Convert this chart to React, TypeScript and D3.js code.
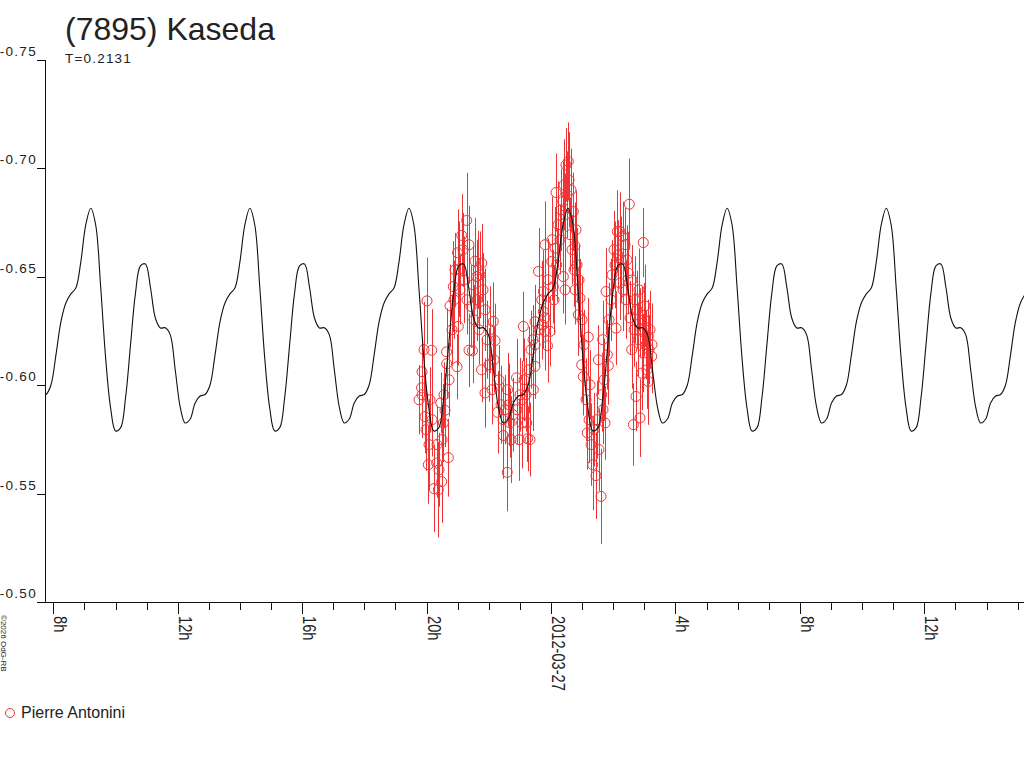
import * as d3 from "d3";
import React from "react";

const TITLE = "(7895) Kaseda";
const PERIOD_DAYS = 0.2131;
const PERIOD_LABEL = "T=0.2131";
const OBSERVER = "Pierre Antonini";
const COPYRIGHT = "©2026 OdG-RB";

// time axis in hours relative to 2012-03-27 00:00
const timeDomain: [number, number] = [-16.267, 15.205];
const magDomain: [number, number] = [-0.75, -0.5];
const magTicks = [-0.75, -0.7, -0.65, -0.6, -0.55, -0.5];
const hourTicks = d3.range(-16, 16);
const labelHours = [-16, -12, -8, -4, 0, 4, 8, 12];
const labelText = ["8h", "12h", "16h", "20h", "2012-03-27", "4h", "8h", "12h"];

// fitted lightcurve, one rotation sampled at 32 equal phase steps from the main maximum
const fitEpoch = -14.797;
const fitMag = [
  -0.6816, -0.6739, -0.6453, -0.6125, -0.5895, -0.5789, -0.5803, -0.5941,
  -0.6185, -0.6425, -0.655, -0.6559, -0.6453, -0.631, -0.6264, -0.6265,
  -0.6232, -0.607, -0.5899, -0.5826, -0.5844, -0.5918, -0.595, -0.5957,
  -0.6001, -0.6139, -0.6292, -0.6379, -0.6421, -0.6448, -0.6568, -0.6739,
];

// observations (Pierre Antonini)
const obsTime = [
  -4.243, -4.163, -4.147, -4.147, -4.083, -4.051, -4.018, -3.986, -3.944, -3.922,
  -3.89, -3.835, -3.825, -3.761, -3.674, -3.665, -3.623, -3.6, -3.546, -3.514,
  -3.504, -3.462, -3.44, -3.408, -3.359, -3.353, -3.301, -3.279, -3.247, -3.183,
  -3.141, -3.118, -3.086, -3.022, -3.006, -2.98, -2.948, -2.925, -2.871, -2.829,
  -2.797, -2.71, -2.7, -2.636, -2.636, -2.572, -2.524, -2.507, -2.475, -2.443,
  -2.389, -2.379, -2.337, -2.315, -2.282, -2.234, -2.228, -2.186, -2.122, -2.122,
  -2.057, -1.993, -1.961, -1.897, -1.855, -1.832, -1.8, -1.72, -1.672, -1.607,
  -1.543, -1.533, -1.479, -1.408, -1.398, -1.35, -1.318, -1.286, -1.222, -1.109,
  -1.093, -1.029, -0.997, -0.942, -0.932, -0.89, -0.868, -0.804, -0.781, -0.755,
  -0.707, -0.675, -0.643, -0.579, -0.569, -0.514, -0.514, -0.514, -0.402, -0.386,
  -0.299, -0.289, -0.248, -0.248, -0.193, -0.193, -0.193, -0.113, -0.096, -0.032,
  0.023, 0.032, 0.074, 0.096, 0.129, 0.161, 0.183, 0.225, 0.289, 0.321,
  0.376, 0.395, 0.418, 0.45, 0.45, 0.482, 0.514, 0.556, 0.579, 0.611,
  0.643, 0.675, 0.717, 0.739, 0.772, 0.772, 0.804, 0.836, 0.878, 0.9,
  0.932, 0.987, 0.997, 1.038, 1.061, 1.125, 1.167, 1.199, 1.222, 1.254,
  1.286, 1.341, 1.382, 1.447, 1.479, 1.521, 1.543, 1.607, 1.63, 1.662,
  1.672, 1.704, 1.736, 1.768, 1.81, 1.842, 1.865, 1.929, 1.961, 2.025,
  2.057, 2.09, 2.131, 2.154, 2.218, 2.218, 2.25, 2.305, 2.315, 2.379,
  2.411, 2.443, 2.485, 2.517, 2.54, 2.594, 2.604, 2.646, 2.668, 2.7,
  2.732, 2.765, 2.797, 2.829, 2.861, 2.861, 2.916, 2.925, 2.967, 2.967,
  2.99, 3.022, 3.054, 3.086, 3.128, 3.128, 3.15, 3.183, 3.237, 3.247,
];
const obsMag = [
  -0.5933, -0.5988, -0.6062, -0.5956, -0.6164, -0.5855, -0.5795, -0.6389, -0.5633, -0.5726,
  -0.5933, -0.6161, -0.5841, -0.5523, -0.5641, -0.5726, -0.5518, -0.561, -0.5918, -0.5555,
  -0.5749, -0.5826, -0.5956, -0.5884, -0.6154, -0.6099, -0.5666, -0.6025, -0.6366, -0.6256,
  -0.6455, -0.6394, -0.6532, -0.6085, -0.6611, -0.6271, -0.6536, -0.644, -0.6691, -0.6625,
  -0.6486, -0.676, -0.6394, -0.6648, -0.6161, -0.6363, -0.6159, -0.6463, -0.6302, -0.6572,
  -0.6501, -0.6394, -0.6532, -0.6256, -0.6509, -0.6071, -0.6563, -0.644, -0.6348, -0.5964,
  -0.621, -0.6094, -0.6256, -0.5979, -0.6294, -0.6117, -0.6206, -0.5875, -0.6025, -0.591,
  -0.5841, -0.5768, -0.5887, -0.5598, -0.5979, -0.591, -0.5826, -0.5749, -0.5864, -0.6034,
  -0.5887, -0.5749, -0.5956, -0.5826, -0.5933, -0.6271, -0.6025, -0.5956, -0.5826, -0.5753,
  -0.6071, -0.5749, -0.6164, -0.621, -0.5979, -0.6293, -0.6187, -0.6087, -0.6525, -0.6256,
  -0.6394, -0.6279, -0.6432, -0.634, -0.6648, -0.6311, -0.6248, -0.6182, -0.6486, -0.6248,
  -0.6571, -0.6671, -0.6455, -0.6394, -0.6632, -0.6889, -0.6555, -0.674, -0.6671, -0.6809,
  -0.6847, -0.6501, -0.6924, -0.6786, -0.644, -0.7016, -0.6878, -0.7032, -0.6947, -0.6694,
  -0.6901, -0.6625, -0.6801, -0.6532, -0.6643, -0.644, -0.6717, -0.6555, -0.6325, -0.6486,
  -0.6402, -0.6094, -0.6302, -0.604, -0.6187, -0.5933, -0.578, -0.6222, -0.5841, -0.6002,
  -0.5726, -0.5633, -0.5795, -0.5583, -0.5841, -0.6117, -0.5703, -0.5487, -0.5956, -0.621,
  -0.5887, -0.6025, -0.5826, -0.6432, -0.614, -0.609, -0.6302, -0.6394, -0.6509, -0.6625,
  -0.6555, -0.6263, -0.6709, -0.6601, -0.6709, -0.6471, -0.6578, -0.6686, -0.644, -0.6648,
  -0.6394, -0.6578, -0.6517, -0.6835, -0.631, -0.6164, -0.6486, -0.5818, -0.6256, -0.6394,
  -0.5948, -0.6348, -0.621, -0.644, -0.6287, -0.5849, -0.6056, -0.6256, -0.6658, -0.6148,
  -0.6302, -0.6366, -0.6187, -0.6071, -0.6225, -0.6017, -0.6164, -0.6256, -0.6133, -0.6187,
];
const obsErr = [
  0.016, 0.018, 0.014, 0.02, 0.022, 0.017, 0.019, 0.02, 0.018, 0.021,
  0.015, 0.019, 0.017, 0.02, 0.016, 0.018, 0.022, 0.017, 0.014, 0.019,
  0.016, 0.018, 0.015, 0.017, 0.02, 0.016, 0.018, 0.017, 0.019, 0.016,
  0.021, 0.018, 0.017, 0.015, 0.02, 0.018, 0.022, 0.016, 0.019, 0.017,
  0.02, 0.022, 0.016, 0.018, 0.017, 0.019, 0.015, 0.018, 0.016, 0.02,
  0.017, 0.019, 0.018, 0.016, 0.02, 0.015, 0.018, 0.017, 0.019, 0.016,
  0.018, 0.017, 0.02, 0.016, 0.018, 0.015, 0.017, 0.019, 0.016, 0.018,
  0.017, 0.02, 0.016, 0.018, 0.017, 0.019, 0.016, 0.02, 0.017, 0.018,
  0.016, 0.019, 0.017, 0.021, 0.018, 0.016, 0.019, 0.017, 0.018, 0.015,
  0.02, 0.017, 0.018, 0.016, 0.019, 0.017, 0.018, 0.015, 0.02, 0.017,
  0.018, 0.016, 0.019, 0.017, 0.02, 0.016, 0.018, 0.017, 0.019, 0.016,
  0.018, 0.02, 0.017, 0.016, 0.019, 0.018, 0.017, 0.02, 0.016, 0.019,
  0.018, 0.017, 0.021, 0.019, 0.016, 0.017, 0.02, 0.018, 0.022, 0.017,
  0.019, 0.016, 0.018, 0.017, 0.02, 0.016, 0.018, 0.017, 0.019, 0.016,
  0.018, 0.017, 0.02, 0.018, 0.016, 0.019, 0.017, 0.018, 0.02, 0.016,
  0.019, 0.021, 0.017, 0.02, 0.018, 0.016, 0.019, 0.022, 0.017, 0.018,
  0.016, 0.019, 0.017, 0.02, 0.016, 0.018, 0.017, 0.019, 0.016, 0.018,
  0.02, 0.017, 0.019, 0.016, 0.018, 0.017, 0.02, 0.016, 0.019, 0.017,
  0.018, 0.016, 0.019, 0.021, 0.017, 0.018, 0.016, 0.019, 0.017, 0.02,
  0.016, 0.018, 0.017, 0.019, 0.016, 0.018, 0.017, 0.02, 0.016, 0.018,
  0.017, 0.019, 0.016, 0.018, 0.017, 0.02, 0.016, 0.018, 0.017, 0.019,
];

const RED = "#ee3434";
const INK = "#222";
const FONT = "'Liberation Sans', Arial, sans-serif";

export default function App() {
  const W = 1024;
  const H = 768;
  const plot = { left: 45, right: 1024, top: 60, bottom: 602 };

  const x = d3.scaleLinear().domain(timeDomain).range([plot.left, plot.right]);
  const y = d3.scaleLinear().domain(magDomain).range([plot.top, plot.bottom]);

  // repeat the one-period fit over the whole time range
  const P = PERIOD_DAYS * 24;
  const c0 = Math.floor((timeDomain[0] - fitEpoch) / P) - 1;
  const c1 = Math.ceil((timeDomain[1] - fitEpoch) / P) + 1;
  const fitPts: [number, number][] = [];
  for (let c = c0; c <= c1; c++) {
    fitMag.forEach((v, i) => fitPts.push([fitEpoch + (c + i / fitMag.length) * P, v]));
  }
  const line = d3
    .line<[number, number]>()
    .x((d) => x(d[0]))
    .y((d) => y(d[1]))
    .curve(d3.curveCatmullRom);

  return (
    <svg
      width={W}
      height={H}
      style={{ position: "absolute", left: 0, top: 0, background: "#fff" }}
      fontFamily={FONT}
    >
      <defs>
        <clipPath id="plotClip">
          <rect x={plot.left} y={plot.top - 20} width={plot.right - plot.left} height={plot.bottom - plot.top + 20} />
        </clipPath>
      </defs>

      {/* title */}
      <text x={65} y={40} fontSize={32} fill={INK}>{TITLE}</text>
      <text x={65} y={63} fontSize={13.5} letterSpacing={1.2} fill={INK}>{PERIOD_LABEL}</text>

      {/* observations: error bars + open circles */}
      <g clipPath="url(#plotClip)" stroke={RED} fill="none" strokeWidth={1}>
        {obsTime.map((t, i) => (
          <line
            key={"e" + i}
            x1={Math.round(x(t)) + 0.5}
            x2={Math.round(x(t)) + 0.5}
            y1={y(obsMag[i] - obsErr[i])}
            y2={y(obsMag[i] + obsErr[i])}
          />
        ))}
        {obsTime.map((t, i) => (
          <circle key={"c" + i} cx={x(t)} cy={y(obsMag[i])} r={5} />
        ))}
      </g>

      {/* fitted curve */}
      <path
        d={line(fitPts) ?? undefined}
        clipPath="url(#plotClip)"
        fill="none"
        stroke="#111"
        strokeWidth={1.1}
      />

      {/* axes */}
      <g stroke="#111" strokeWidth={1} shapeRendering="crispEdges">
        <line x1={plot.left + 0.5} x2={plot.left + 0.5} y1={plot.top} y2={plot.bottom} />
        {magTicks.map((t) => (
          <line key={t} x1={37} x2={plot.left} y1={Math.round(y(t)) + 0.5} y2={Math.round(y(t)) + 0.5} />
        ))}
        <line x1={37} x2={plot.right} y1={plot.bottom + 0.5} y2={plot.bottom + 0.5} />
        {hourTicks.map((h) => (
          <line
            key={h}
            x1={Math.round(x(h)) + 0.5}
            x2={Math.round(x(h)) + 0.5}
            y1={plot.bottom}
            y2={plot.bottom + (labelHours.includes(h) ? 12 : 8)}
          />
        ))}
      </g>
      {magTicks.map((t) => (
        <text key={t} x={37} y={y(t) - 4} textAnchor="end" fontSize={13.5} letterSpacing={1.3} fill={INK}>
          {d3.format(".2f")(t).replace("−", "-")}
        </text>
      ))}
      {labelHours.map((h, i) => (
        <text
          key={h}
          transform={`translate(${Math.round(x(h)) + 1},616) rotate(90) scale(0.77,1)`}
          fontSize={19}
          fill={INK}
        >
          {labelText[i]}
        </text>
      ))}

      {/* copyright */}
      <text transform="translate(1,615) rotate(90)" fontSize={8} fill={INK}>{COPYRIGHT}</text>

      {/* legend */}
      <circle cx={10} cy={713} r={4.5} fill="none" stroke={RED} />
      <text x={21} y={718} fontSize={16} fill={INK}>{OBSERVER}</text>
    </svg>
  );
}
